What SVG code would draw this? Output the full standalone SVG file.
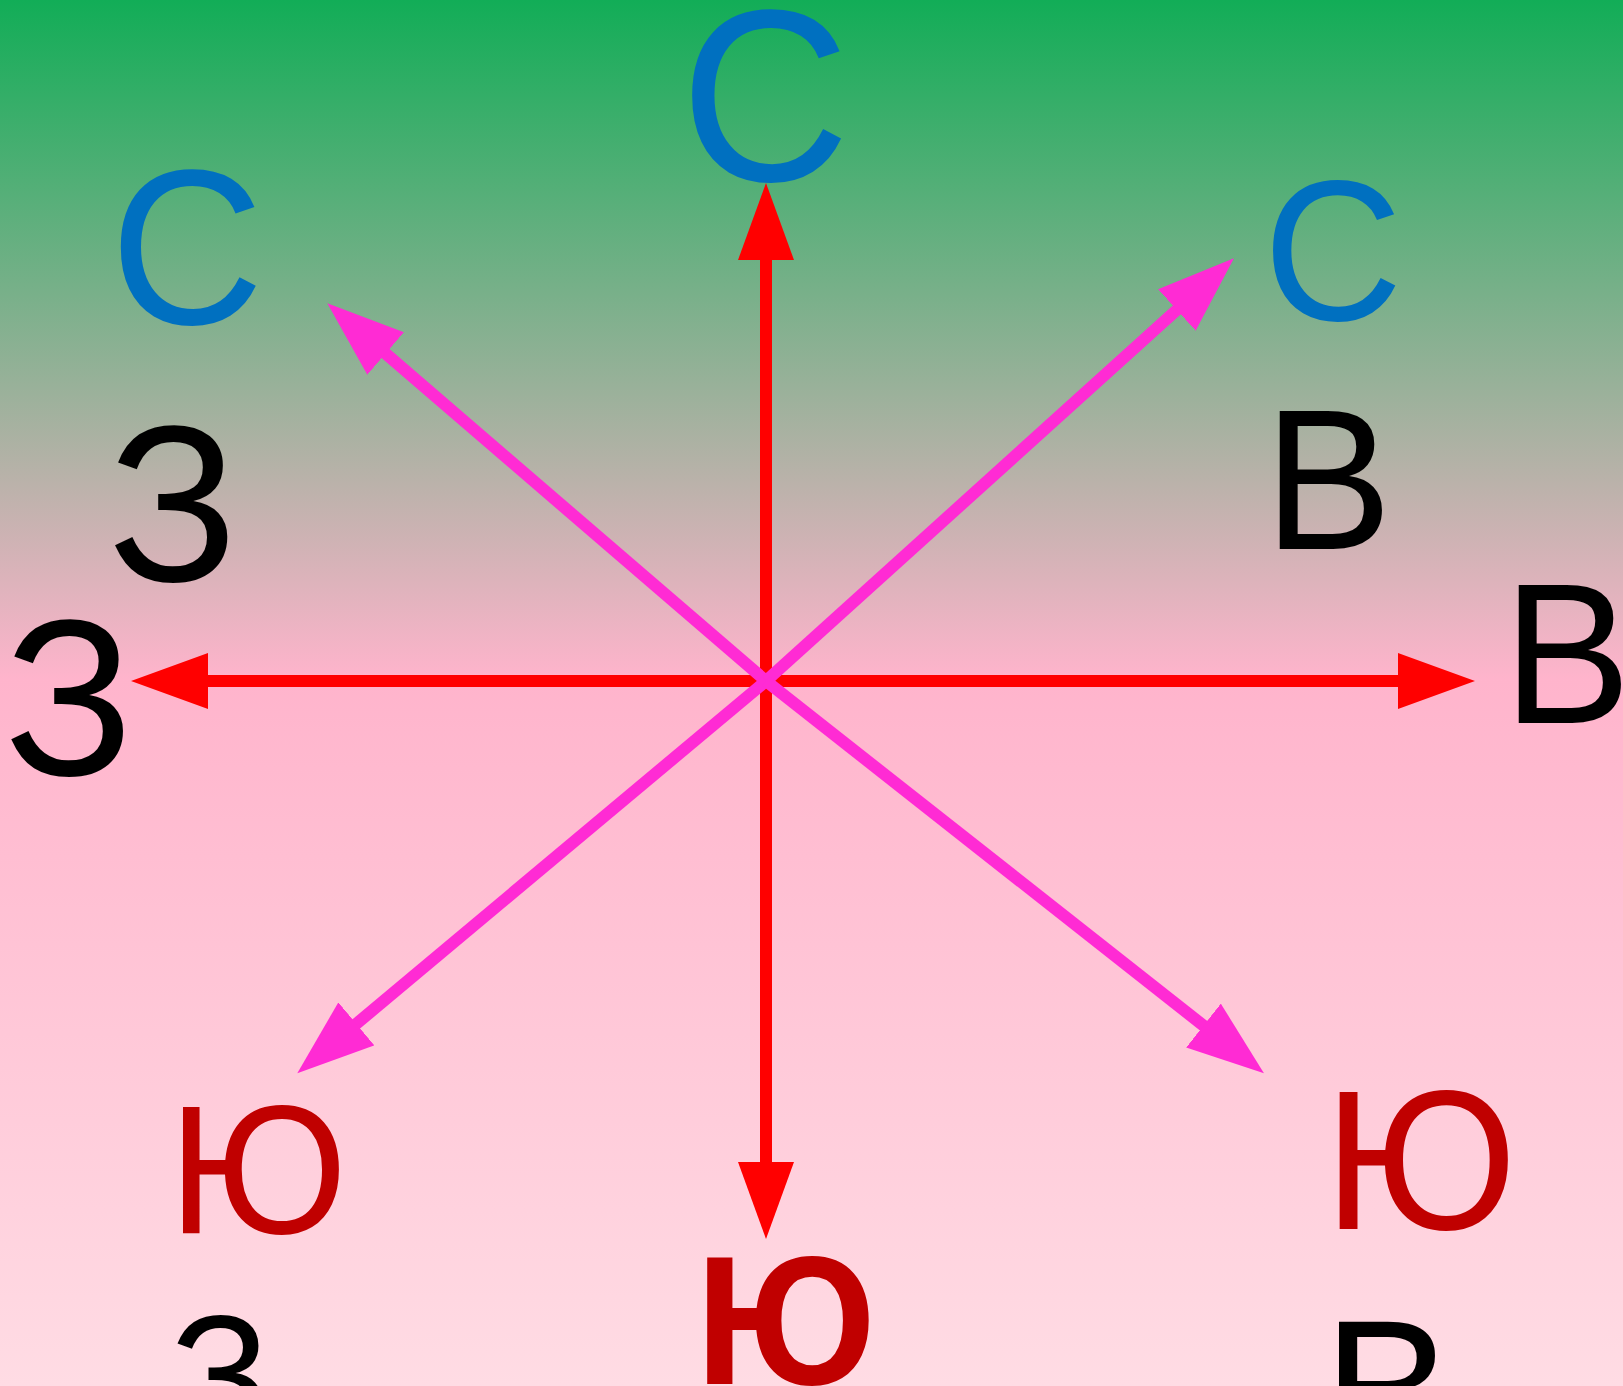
<svg xmlns="http://www.w3.org/2000/svg" width="1623" height="1386" viewBox="0 0 1623 1386">
<style>
text{font-family:"Liberation Sans",Arial,sans-serif}
.blue{fill:#0070C0}
.dred{fill:#C00000}
.blk{fill:#000000}
.red{stroke:#FF0000;stroke-width:12;fill:none}
.mag{stroke:#FF2BD4;stroke-width:12;fill:none}
</style>
<defs>
<linearGradient id="bg" x1="0" y1="0" x2="0" y2="1">
<stop offset="0" stop-color="#12AD57"/>
<stop offset="0.49" stop-color="#FFB4CC"/>
<stop offset="1" stop-color="#FFDCE4"/>
</linearGradient>
<marker id="ar" markerUnits="userSpaceOnUse" markerWidth="77" markerHeight="56" viewBox="0 0 77 56" refX="47" refY="28" orient="auto">
<path d="M0,0 L77,28 L0,56 z" fill="#FF0000"/>
</marker>
<marker id="am" markerUnits="userSpaceOnUse" markerWidth="77" markerHeight="56" viewBox="0 0 77 56" refX="47" refY="28" orient="auto">
<path d="M0,0 L77,28 L0,56 z" fill="#FF2BD4"/>
</marker>
</defs>
<rect x="0" y="0" width="1623" height="1386" fill="url(#bg)"/>
<g id="connectors">
<line class="red" x1="766" y1="681" x2="766" y2="213" marker-end="url(#ar)"/>
<line class="red" x1="766" y1="681" x2="766" y2="1209" marker-end="url(#ar)"/>
<line class="red" x1="766" y1="681" x2="161" y2="681" marker-end="url(#ar)"/>
<line class="red" x1="766" y1="681" x2="1445" y2="681" marker-end="url(#ar)"/>
<line class="mag" x1="766" y1="681" x2="350" y2="322.9" marker-end="url(#am)"/>
<line class="mag" x1="766" y1="681" x2="1211.7" y2="278.4" marker-end="url(#am)"/>
<line class="mag" x1="766" y1="681" x2="320.3" y2="1054" marker-end="url(#am)"/>
<line class="mag" x1="766" y1="681" x2="1240.4" y2="1054.7" marker-end="url(#am)"/>
</g>
<g id="n-north"><text class="blue" transform="translate(765,181) scale(1,1.04)" font-size="235" text-anchor="middle">С</text></g>
<g id="n-nw-c"><text class="blue" transform="translate(187,324) scale(1,1.04)" font-size="213" text-anchor="middle">С</text></g>
<g id="n-nw-z"><text class="blk" transform="translate(173,581) scale(1,1.04)" font-size="215" text-anchor="middle">З</text></g>
<g id="n-ne-c"><text class="blue" transform="translate(1333,319.5) scale(1,1.04)" font-size="193" text-anchor="middle">С</text></g>
<g id="n-ne-v"><text class="blk" transform="translate(1264,548.6) scale(1,1.04)" font-size="192">В</text></g>
<g id="n-west"><text class="blk" transform="translate(69,775) scale(1,1.04)" font-size="214" text-anchor="middle">З</text></g>
<g id="n-east"><text class="blk" transform="translate(1503,723.3) scale(1,1.04)" font-size="192">В</text></g>
<g id="n-sw-yu"><text class="dred" transform="translate(168.5,1233.3) scale(1,1.04)" font-size="177">Ю</text></g>
<g id="n-sw-z"><text class="blk" transform="translate(220,1435) scale(1,1.04)" font-size="166" text-anchor="middle">З</text></g>
<g id="n-south"><text class="dred" transform="translate(695.5,1384) scale(1,1.05)" font-size="175" font-weight="bold">Ю</text></g>
<g id="n-se-yu"><text class="dred" transform="translate(1324,1229.3) scale(1,1.04)" font-size="191">Ю</text></g>
<g id="n-se-v"><text class="blk" transform="translate(1323,1461) scale(1,1.04)" font-size="195">В</text></g>
</svg>
